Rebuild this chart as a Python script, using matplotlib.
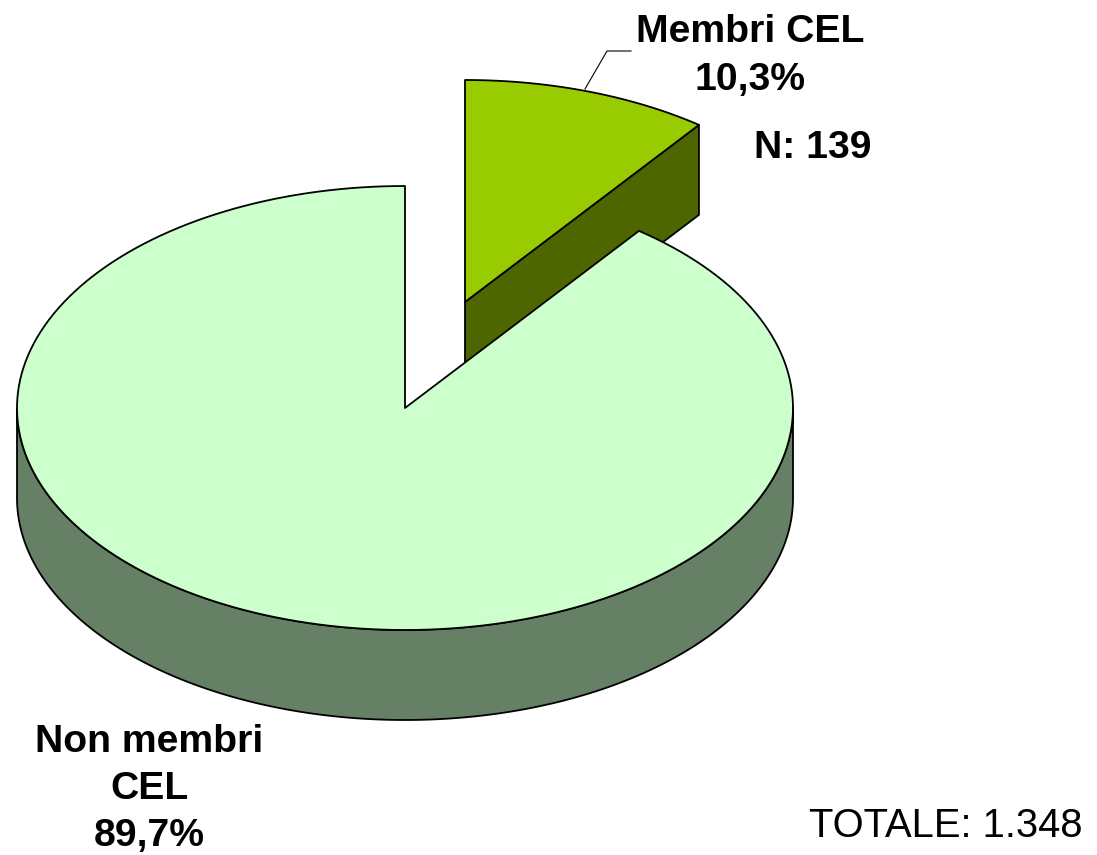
#!/usr/bin/env python3
import os

os.environ.setdefault("MPLBACKEND", "Agg")
import matplotlib.pyplot as plt
import numpy as np

plt.rcParams["font.family"] = ["Liberation Sans", "DejaVu Sans"]

labels = ["Membri CEL\n10,3%", "Non membri\nCEL\n89,7%"]
shares = [10.3, 89.7]
top_colors = ["#99CC00", "#CCFFCC"]
side_colors = ["#4D6600", "#668066"]

W, H = 1097, 855
CX, CY, RX, RY = 405, 408, 388, 222
DEPTH = 90
EXPLODE = (60, -106)


def rim(a0, a1, dx=0, dy=0, n=200):
    # angles are clockwise from 12 o'clock, in degrees
    t = np.radians(np.linspace(a0, a1, n))
    return CX + dx + RX * np.sin(t), CY + dy - RY * np.cos(t)


def face(ax, xs, ys, color, z):
    ax.fill(xs, ys, facecolor=color, edgecolor="black", linewidth=1.3, joinstyle="round", zorder=z)


fig = plt.figure(figsize=(W / 100, H / 100), dpi=100)
ax = fig.add_axes([0, 0, 1, 1])
ax.set_xlim(0, W)
ax.set_ylim(H, 0)
ax.axis("off")

cut = shares[0] / sum(shares) * 360

# exploded slice
dx, dy = EXPLODE
ex, ey = rim(cut, cut, dx, dy, 2)
tip = (CX + dx, CY + dy)
face(ax, [tip[0], ex[0], ex[0], tip[0]], [tip[1], ey[0], ey[0] + DEPTH, tip[1] + DEPTH], side_colors[0], 1)
xs, ys = rim(0, cut, dx, dy)
face(ax, np.r_[tip[0], xs], np.r_[tip[1], ys], top_colors[0], 2)

# main slice: outer wall is the lower half of the rim
xs, ys = rim(90, 270)
face(ax, np.r_[xs, xs[::-1]], np.r_[ys, ys[::-1] + DEPTH], side_colors[1], 3)
xs, ys = rim(cut, 360)
face(ax, np.r_[CX, xs], np.r_[CY, ys], top_colors[1], 4)

ax.plot([585, 607, 631], [89, 51, 51], color="black", linewidth=0.8, zorder=5)

bold = dict(fontsize=28.2, fontweight="bold", ha="center", va="center", linespacing=1.4)
ax.text(750, 56, labels[0], **bold)
ax.text(149, 789, labels[1], **bold)
ax.text(813, 148.5, "N: 139", **bold)
ax.text(945.5, 826, "TOTALE: 1.348", fontsize=28.8, ha="center", va="center")

fig.savefig("out.png", dpi=100)
plt.close(fig)
